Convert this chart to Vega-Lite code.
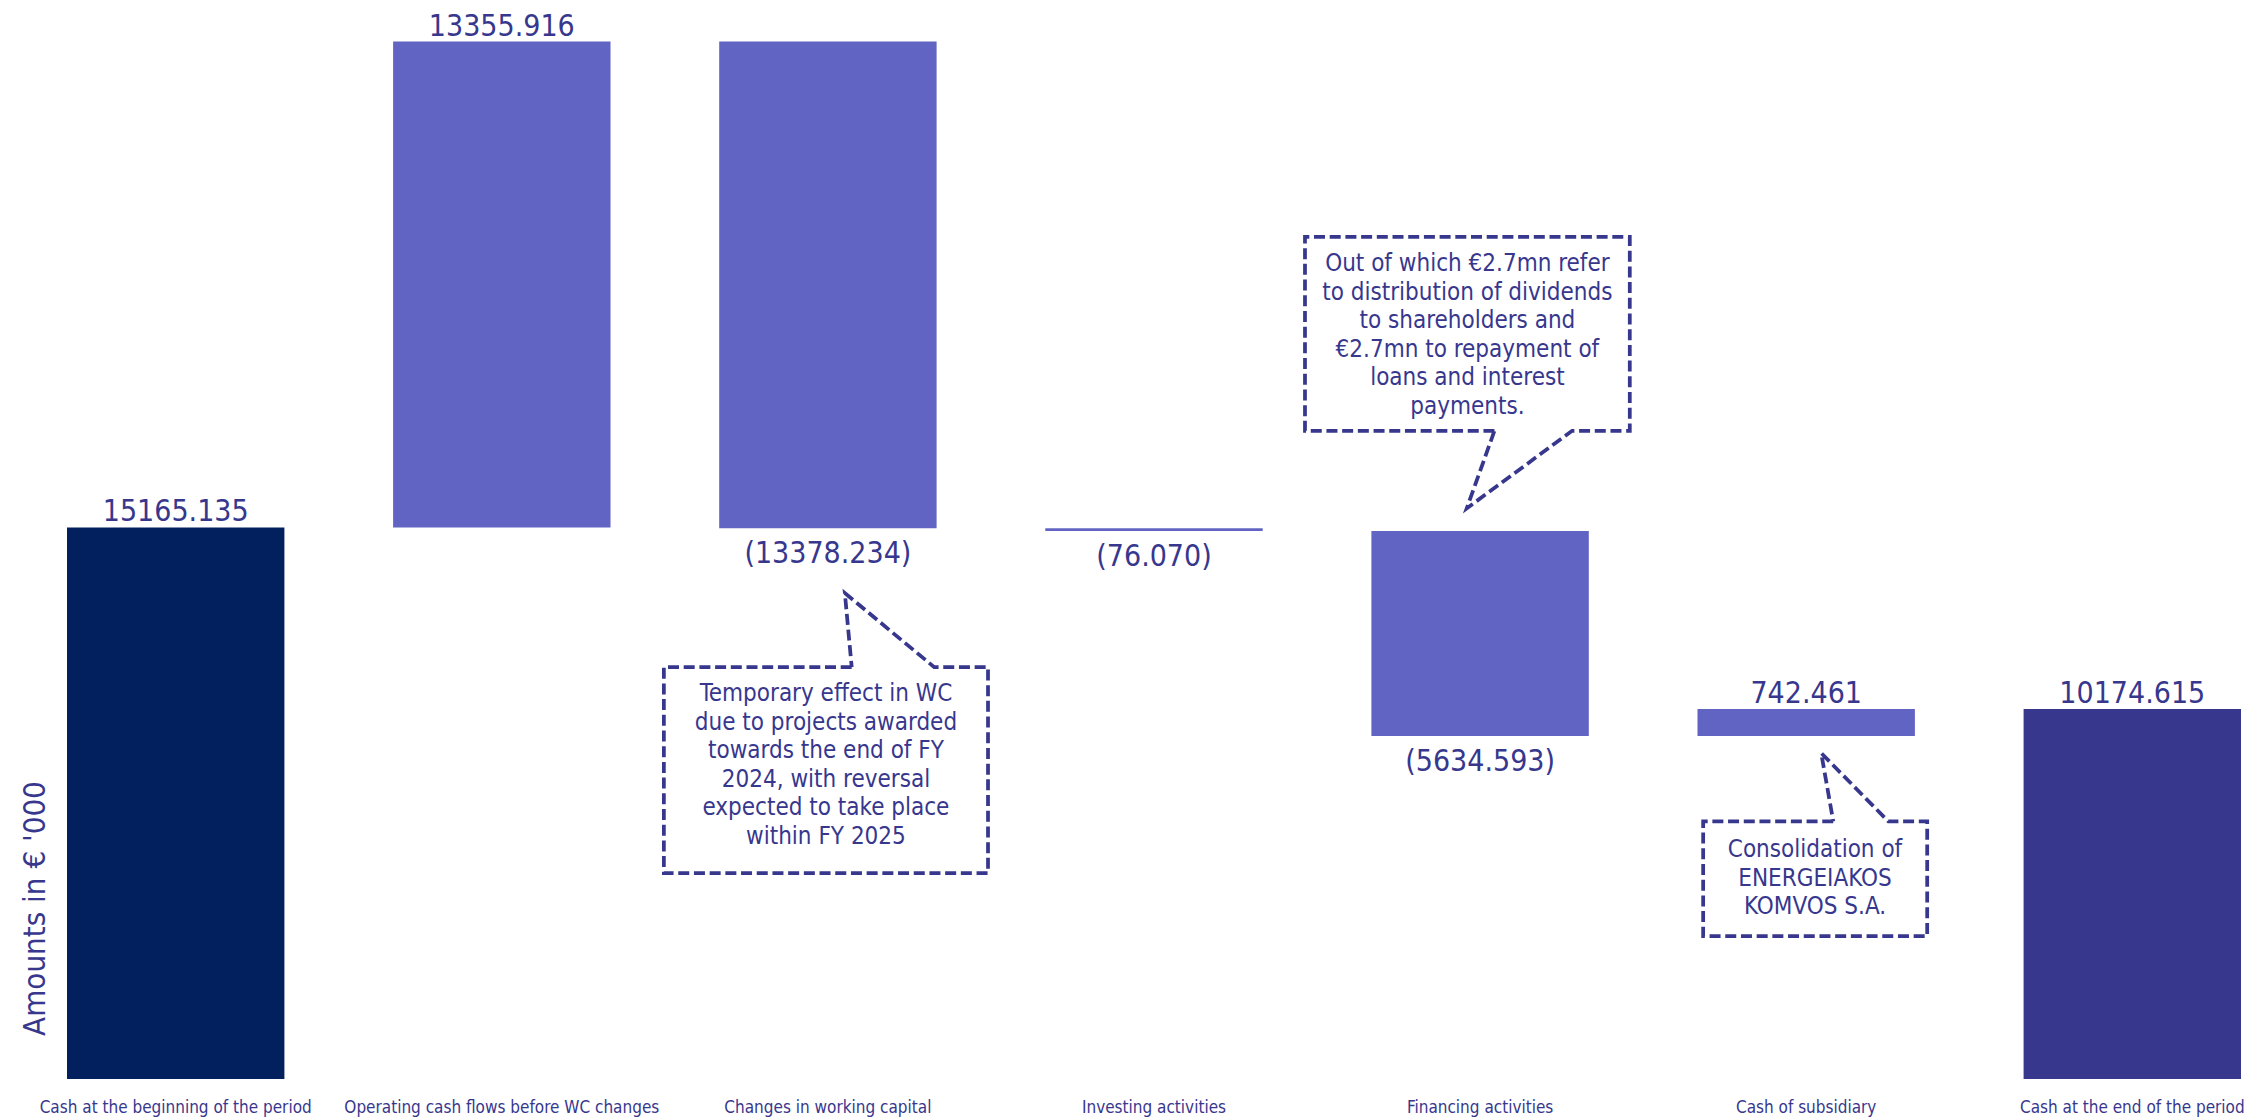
{
  "$schema": "https://vega.github.io/schema/vega-lite/v6.json",
  "width": 2174,
  "height": 1079,
  "autosize": {"type": "none"},
  "padding": {"left": 67, "top": 0, "right": 23, "bottom": 39},
  "background": "white",
  "config": {"view": {"stroke": null}, "font": "DejaVu Sans Condensed"},
  "datasets": {
    "flows": [
      {"step": "Cash at the beginning of the period", "amount": 15165.135, "start": 0, "end": 15165.135, "kind": "open", "label": "15165.135"},
      {"step": "Operating cash flows before WC changes", "amount": 13355.916, "start": 15165.135, "end": 28521.051, "kind": "change", "label": "13355.916"},
      {"step": "Changes in working capital", "amount": -13378.234, "start": 28521.051, "end": 15142.817, "kind": "change", "label": "(13378.234)"},
      {"step": "Investing activities", "amount": -76.07, "start": 15142.817, "end": 15066.747, "kind": "change", "label": "(76.070)"},
      {"step": "Financing activities", "amount": -5634.593, "start": 15066.747, "end": 9432.154, "kind": "change", "label": "(5634.593)"},
      {"step": "Cash of subsidiary", "amount": 742.461, "start": 9432.154, "end": 10174.615, "kind": "change", "label": "742.461"},
      {"step": "Cash at the end of the period", "amount": 10174.615, "start": 0, "end": 10174.615, "kind": "close", "label": "10174.615"}
    ],
    "callouts": [
      {"id": "wc", "seq": 0, "u": 2.073, "v": 11324},
      {"id": "wc", "seq": 1, "u": 1.497, "v": 11324},
      {"id": "wc", "seq": 2, "u": 1.497, "v": 5661},
      {"id": "wc", "seq": 3, "u": 2.491, "v": 5661},
      {"id": "wc", "seq": 4, "u": 2.491, "v": 11324},
      {"id": "wc", "seq": 5, "u": 2.326, "v": 11324},
      {"id": "wc", "seq": 6, "u": 2.052, "v": 13359},
      {"id": "wc", "seq": 7, "u": 2.073, "v": 11324},
      {"id": "fin", "seq": 0, "u": 4.044, "v": 17821},
      {"id": "fin", "seq": 1, "u": 3.463, "v": 17821},
      {"id": "fin", "seq": 2, "u": 3.463, "v": 23155},
      {"id": "fin", "seq": 3, "u": 4.459, "v": 23155},
      {"id": "fin", "seq": 4, "u": 4.459, "v": 17821},
      {"id": "fin", "seq": 5, "u": 4.282, "v": 17821},
      {"id": "fin", "seq": 6, "u": 3.959, "v": 15688},
      {"id": "fin", "seq": 7, "u": 4.044, "v": 17821},
      {"id": "sub", "seq": 0, "u": 5.083, "v": 7082},
      {"id": "sub", "seq": 1, "u": 4.684, "v": 7082},
      {"id": "sub", "seq": 2, "u": 4.684, "v": 3929},
      {"id": "sub", "seq": 3, "u": 5.371, "v": 3929},
      {"id": "sub", "seq": 4, "u": 5.371, "v": 7082},
      {"id": "sub", "seq": 5, "u": 5.252, "v": 7082},
      {"id": "sub", "seq": 6, "u": 5.046, "v": 8960},
      {"id": "sub", "seq": 7, "u": 5.083, "v": 7082}
    ],
    "notes": [
      {"id": "wc", "u": 1.994, "v": 10381, "text": "Temporary effect in WC\ndue to projects awarded\ntowards the end of FY\n2024, with reversal\nexpected to take place\nwithin FY 2025"},
      {"id": "fin", "u": 3.961, "v": 22203, "text": "Out of which €2.7mn refer\nto distribution of dividends\nto shareholders and\n€2.7mn to repayment of\nloans and interest\npayments."},
      {"id": "sub", "u": 5.027, "v": 6101, "text": "Consolidation of\nENERGEIAKOS\nKOMVOS S.A."}
    ]
  },
  "layer": [
    {
      "layer": [
        {
          "data": {"name": "flows"},
          "mark": {"type": "bar"},
          "encoding": {
            "x": {
              "field": "step", "type": "nominal",
              "scale": {"domain": ["Cash at the beginning of the period", "Operating cash flows before WC changes", "Changes in working capital", "Investing activities", "Financing activities", "Cash of subsidiary", "Cash at the end of the period"], "paddingInner": 0.3333, "paddingOuter": 0},
              "axis": {"title": null, "ticks": false, "domain": false, "grid": false, "labelFontSize": 17, "labelColor": "#37378D", "labelPadding": 20, "labelAngle": 0, "labelLimit": 0, "labelOverlap": false, "labelFont": "DejaVu Sans Condensed"}
            },
            "y": {
              "field": "start", "type": "quantitative",
              "scale": {"domain": [0, 29665], "nice": false, "zero": true},
              "axis": {"title": "Amounts in € '000", "labels": false, "ticks": false, "domain": false, "grid": false, "titleFontSize": 31, "titleFontWeight": "normal", "titleColor": "#37378D", "titleFont": "DejaVu Sans Condensed", "titleX": -23, "titleY": 908, "titleAngle": -90, "titleAlign": "center", "titleBaseline": "alphabetic"}
            },
            "y2": {"field": "end"},
            "color": {"field": "kind", "type": "nominal", "scale": {"domain": ["open", "change", "close"], "range": ["#03205E", "#6264C4", "#37378D"]}, "legend": null}
          }
        },
        {
          "data": {"name": "flows"},
          "transform": [{"filter": "datum.amount > 0"}],
          "mark": {"type": "text", "fontSize": 30, "color": "#37378D", "dy": -6, "baseline": "alphabetic", "align": "center"},
          "encoding": {
            "x": {"field": "step", "type": "nominal"},
            "y": {"field": "end", "type": "quantitative"},
            "text": {"field": "label"}
          }
        },
        {
          "data": {"name": "flows"},
          "transform": [{"filter": "datum.amount < 0"}],
          "mark": {"type": "text", "fontSize": 30, "color": "#37378D", "dy": 35, "baseline": "alphabetic", "align": "center"},
          "encoding": {
            "x": {"field": "step", "type": "nominal"},
            "y": {"field": "end", "type": "quantitative"},
            "text": {"field": "label"}
          }
        }
      ]
    },
    {
      "layer": [
        {
          "data": {"name": "callouts"},
          "mark": {"type": "line", "stroke": "#37378D", "strokeWidth": 3.75, "strokeDash": [11, 4.7], "strokeCap": "butt"},
          "encoding": {
            "x": {"field": "u", "type": "quantitative", "scale": {"domain": [-0.3333, 6.3333], "nice": false, "zero": false}, "axis": null},
            "y": {"field": "v", "type": "quantitative", "scale": {"domain": [0, 29665], "nice": false, "zero": true}, "axis": null},
            "detail": {"field": "id"},
            "order": {"field": "seq"}
          }
        },
        {
          "data": {"name": "notes"},
          "mark": {"type": "text", "fontSize": 24, "lineHeight": 28.5, "lineBreak": "\n", "color": "#37378D", "align": "center", "baseline": "alphabetic"},
          "encoding": {
            "x": {"field": "u", "type": "quantitative"},
            "y": {"field": "v", "type": "quantitative"},
            "text": {"field": "text"}
          }
        }
      ]
    }
  ],
  "resolve": {"scale": {"x": "independent", "y": "independent"}}
}
